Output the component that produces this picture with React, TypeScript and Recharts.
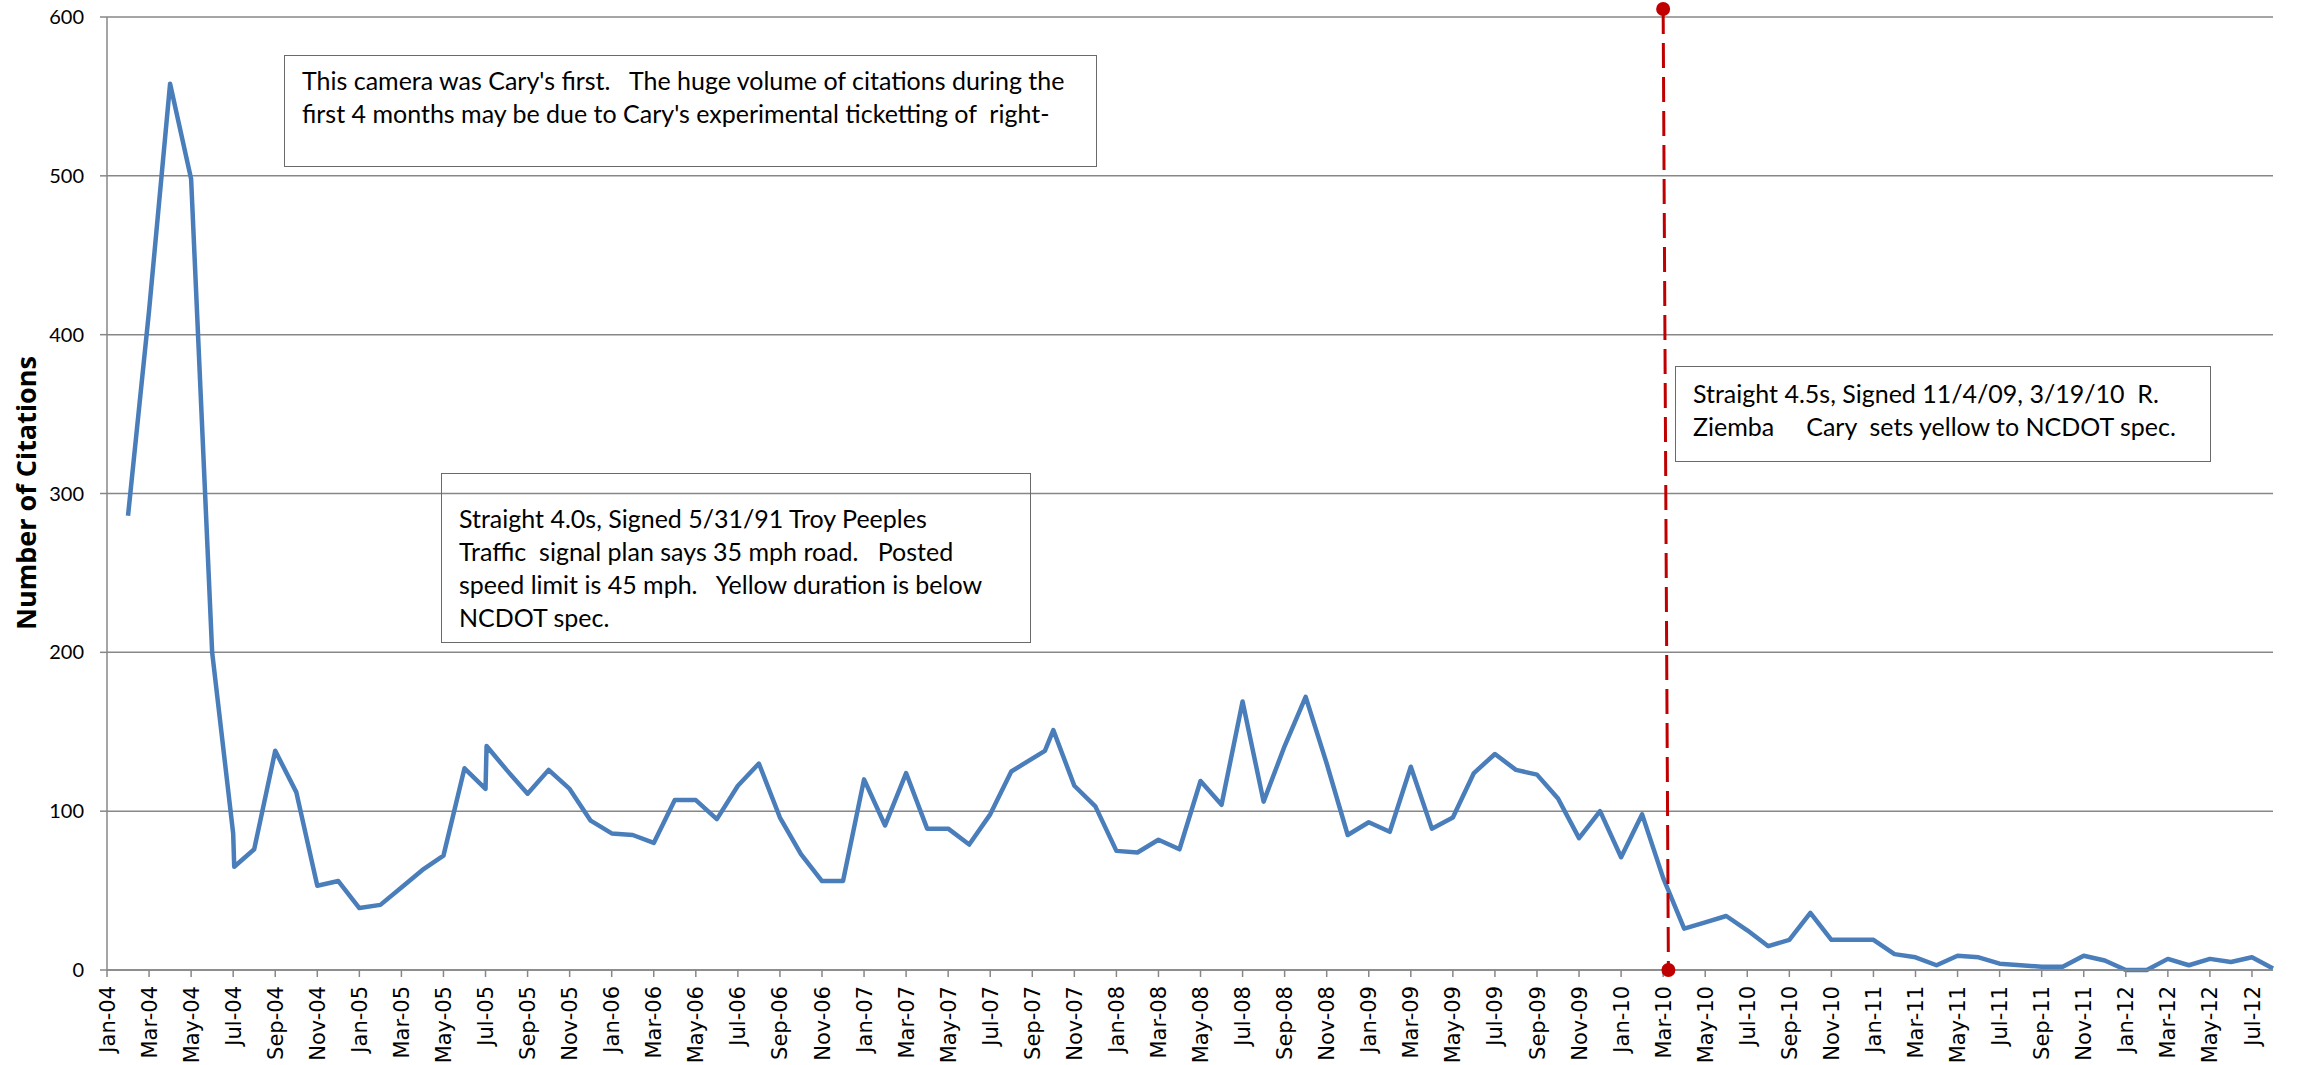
import React from "react"
import {
  LineChart,
  Line,
  XAxis,
  YAxis,
  CartesianGrid,
  ReferenceLine,
  ReferenceDot,
} from "recharts"

// months counted from Jan-04 (0 = Jan-04); two readings share Jul-04 and Jul-05
const monthIndex = [
  1, 2, 3, 4, 5, 6, 6.05, 7, 8, 9, 10, 11,
  12, 13, 14, 15, 16, 17, 18, 18.05, 19, 20, 21, 22, 23,
  24, 25, 26, 27, 28, 29, 30, 31, 32, 33, 34, 35,
  36, 37, 38, 39, 40, 41, 42, 43, 44.6, 45, 46, 47,
  48, 49, 50, 51, 52, 53, 54, 55, 56, 57, 58, 59,
  60, 61, 62, 63, 64, 65, 66, 67, 68, 69, 70, 71,
  72, 73, 74, 75, 76, 77, 78, 79, 80, 81, 82, 83,
  84, 85, 86, 87, 88, 89, 90, 91, 92, 93, 94, 95,
  96, 97, 98, 99, 100, 101, 102, 103,
]

const citations = [
  286, 415, 558, 498, 200, 86, 65, 76, 138, 112, 53, 56,
  39, 41, 52, 63, 72, 127, 114, 141, 126, 111, 126, 114, 94,
  86, 85, 80, 107, 107, 95, 116, 130, 96, 73, 56, 56,
  120, 91, 124, 89, 89, 79, 98, 125, 138, 151, 116, 103,
  75, 74, 82, 76, 119, 104, 169, 106, 141, 172, 130, 85,
  93, 87, 128, 89, 96, 124, 136, 126, 123, 108, 83, 100,
  71, 98, 58, 26, 30, 34, 25, 15, 19, 36, 19, 19,
  19, 10, 8, 3, 9, 8, 4, 3, 2, 2, 9, 6,
  0, 0, 7, 3, 7, 5, 8, 1,
]

// red marker: signing of the 4.5s timing plan (top and bottom ends)
const signedMarks = [
  { m: 74, v: 605 },
  { m: 74.25, v: 0 },
]

const monthNames = ["Jan", "Feb", "Mar", "Apr", "May", "Jun", "Jul", "Aug", "Sep", "Oct", "Nov", "Dec"]
const xTicks = Array.from({ length: 52 }, (_, i) => i * 2)
const yTicks = [0, 100, 200, 300, 400, 500, 600]

const notes = [
  {
    box: { left: 284, top: 55, width: 813, height: 112 },
    firstLine: 80,
    lines: [
      "This camera was Cary's first.   The huge volume of citations during the",
      "first 4 months may be due to Cary's experimental ticketting of  right-",
    ],
  },
  {
    box: { left: 441, top: 473, width: 590, height: 170 },
    firstLine: 518,
    lines: [
      "Straight 4.0s, Signed 5/31/91 Troy Peeples",
      "Traffic  signal plan says 35 mph road.   Posted",
      "speed limit is 45 mph.   Yellow duration is below",
      "NCDOT spec.",
    ],
  },
  {
    box: { left: 1675, top: 366, width: 536, height: 96 },
    firstLine: 393,
    lines: [
      "Straight 4.5s, Signed 11/4/09, 3/19/10  R.",
      "Ziemba     Cary  sets yellow to NCDOT spec.",
    ],
  },
]

const data = monthIndex.map((m, i) => ({ m, citations: citations[i] }))

const GRID = "#878787"
const BODY_FONT = "Lato, 'Open Sans', sans-serif"

function formatMonth(m: number) {
  const year = 4 + Math.floor(m / 12)
  return `${monthNames[m % 12]}-${String(year).padStart(2, "0")}`
}

function MonthTick(props: any) {
  const { x, y, payload } = props
  return (
    <text
      x={x}
      y={y}
      transform={`rotate(-90, ${x}, ${y})`}
      textAnchor="end"
      dy="0.36em"
      fontFamily="'DejaVu Sans', Verdana, sans-serif"
      fontSize={21}
      fill="#000"
    >
      {formatMonth(payload.value)}
    </text>
  )
}

function YTitle() {
  return (
    <text
      x={25}
      y={493}
      transform="rotate(-90, 25, 493)"
      textAnchor="middle"
      dominantBaseline="central"
      fontFamily="'Open Sans', 'Noto Sans', sans-serif"
      fontWeight={700}
      fontSize={27}
      fill="#000"
    >
      Number of Citations
    </text>
  )
}

export default function App() {
  return (
    <div style={{ position: "absolute", left: 0, top: 0, width: 2299, height: 1065, background: "#fff" }}>
      <LineChart width={2299} height={1065} data={data} margin={{ top: 17, right: 26, bottom: 0, left: 47 }}>
        <CartesianGrid vertical={false} stroke={GRID} strokeWidth={1.5} />
        <XAxis
          dataKey="m"
          type="number"
          domain={[0, 103]}
          ticks={xTicks}
          interval={0}
          height={95}
          tickSize={7}
          tickMargin={9}
          stroke={GRID}
          strokeWidth={1.5}
          tick={<MonthTick />}
        />
        <YAxis
          type="number"
          domain={[0, 600]}
          ticks={yTicks}
          width={60}
          tickSize={7}
          tickMargin={16}
          stroke={GRID}
          strokeWidth={1.5}
          tick={{ fill: "#000", fontSize: 20, fontFamily: BODY_FONT }}
          label={<YTitle />}
        />
        <Line
          type="linear"
          dataKey="citations"
          stroke="#4a7ebb"
          strokeWidth={4.5}
          strokeLinejoin="round"
          dot={false}
          activeDot={false}
          isAnimationActive={false}
        />
        <ReferenceLine
          segment={[
            { x: signedMarks[0].m, y: signedMarks[0].v },
            { x: signedMarks[1].m, y: signedMarks[1].v },
          ]}
          stroke="#c00000"
          strokeWidth={3}
          strokeDasharray="25 9"
          ifOverflow="visible"
        />
        {signedMarks.map((p) => (
          <ReferenceDot key={p.m} x={p.m} y={p.v} r={7} fill="#c00000" stroke="none" ifOverflow="visible" />
        ))}
      </LineChart>
      {notes.map((n, i) => (
        <div key={i}>
          <div
            style={{
              position: "absolute",
              left: n.box.left,
              top: n.box.top,
              width: n.box.width,
              height: n.box.height,
              border: "1.5px solid #6a6a6a",
              boxSizing: "border-box",
            }}
          />
          {n.lines.map((line, j) => (
            <div
              key={j}
              style={{
                position: "absolute",
                left: n.box.left + 18,
                top: n.firstLine + j * 33 - 16,
                height: 33,
                lineHeight: "33px",
                fontFamily: BODY_FONT,
                fontSize: 25,
                color: "#000",
                whiteSpace: "pre",
              }}
            >
              {line}
            </div>
          ))}
        </div>
      ))}
    </div>
  )
}
